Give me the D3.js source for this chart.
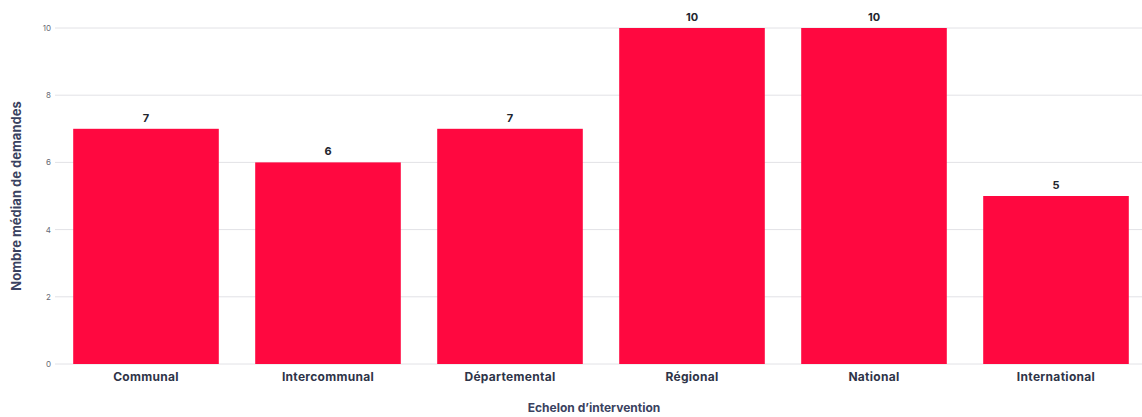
<!DOCTYPE html>
<html>
<head>
<meta charset="utf-8">
<script src="https://cdn.jsdelivr.net/npm/d3@7"></script>
<style>
  body { margin: 0; background: #fff; }
  svg text { font-family: Inter, "Open Sans", sans-serif; }
</style>
</head>
<body>
<div id="chart"></div>
<script>
// data
const categories = ["Communal", "Intercommunal", "Départemental", "Régional", "National", "International"];
const values = [7, 6, 7, 10, 10, 5];
const yTicks = [0, 2, 4, 6, 8, 10];

const width = 1142;
const height = 417;
const margin = { top: 28, right: -5, bottom: 53, left: 55 };

const svg = d3.select("#chart")
    .append("svg")
    .attr("width", width)
    .attr("height", height);

const xScale = d3.scaleBand()
    .domain(categories)
    .range([margin.left, width - margin.right])
    .paddingInner(0.2)
    .paddingOuter(0.1);

const yScale = d3.scaleLinear()
    .domain([0, 10])
    .range([height - margin.bottom, margin.top]);

// gridlines
svg.append("g")
    .selectAll("line")
    .data(yTicks)
    .join("line")
    .attr("x1", margin.left)
    .attr("x2", width)
    .attr("y1", d => yScale(d))
    .attr("y2", d => yScale(d))
    .attr("stroke", "#e2e2e6")
    .attr("stroke-width", 1);

// y axis labels
const yAxis = svg.append("g")
    .attr("transform", "translate(" + margin.left + ",0)")
    .call(d3.axisLeft(yScale).tickValues(yTicks).tickSize(0).tickPadding(4));
yAxis.select(".domain").remove();
yAxis.selectAll("text")
    .style("font-size", "8px")
    .style("fill", "#666a74");

// bars
svg.append("g")
    .selectAll("rect")
    .data(values)
    .join("rect")
    .attr("x", (d, i) => xScale(categories[i]))
    .attr("y", d => yScale(d))
    .attr("width", xScale.bandwidth())
    .attr("height", d => yScale(0) - yScale(d))
    .attr("fill", "#ff0840");

// value labels
svg.append("g")
    .selectAll("text")
    .data(values)
    .join("text")
    .attr("x", (d, i) => xScale(categories[i]) + xScale.bandwidth() / 2)
    .attr("y", d => yScale(d) - 7)
    .attr("text-anchor", "middle")
    .style("font-size", "11px")
    .style("font-weight", "bold")
    .style("fill", "#22262e")
    .text(d => d);

// x axis labels
const xAxis = svg.append("g")
    .attr("transform", "translate(0," + yScale(0) + ")")
    .call(d3.axisBottom(xScale).tickSize(0).tickPadding(8));
xAxis.select(".domain").remove();
xAxis.selectAll("text")
    .style("font-size", "12px")
    .style("font-weight", "bold")
    .style("letter-spacing", "0.3px")
    .style("fill", "#2e3448");

// axis titles
svg.append("text")
    .attr("x", 594)
    .attr("y", 412)
    .attr("text-anchor", "middle")
    .style("font-size", "12px")
    .style("font-weight", "bold")
    .style("fill", "#3a4260")
    .text("Echelon d’intervention");

svg.append("text")
    .attr("transform", "translate(21," + ((yScale(0) + yScale(10)) / 2) + ") rotate(-90)")
    .attr("text-anchor", "middle")
    .style("font-size", "13px")
    .style("font-weight", "bold")
    .style("fill", "#3a4260")
    .text("Nombre médian de demandes");
</script>
</body>
</html>
